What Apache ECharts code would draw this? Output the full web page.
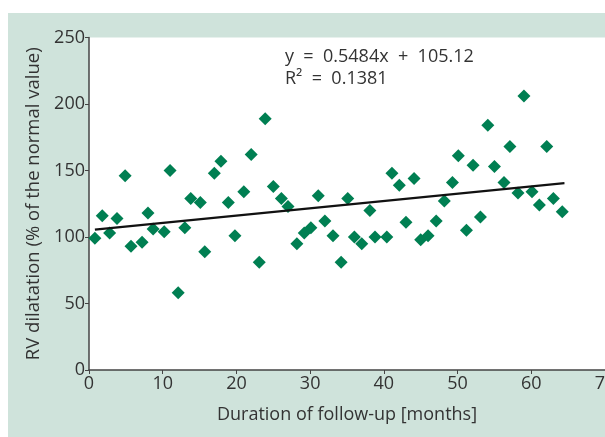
<!DOCTYPE html>
<html><head><meta charset="utf-8">
<script src="https://cdn.jsdelivr.net/npm/echarts@6/dist/echarts.min.js"></script>
<style>html,body{margin:0;padding:0;background:#fff}#c{width:605px;height:437px}</style>
</head><body><div id="c"></div>
<script>
const months = [0.8,1.8,2.8,3.8,4.9,5.7,7.2,8.0,8.7,10.2,11.0,12.1,13.0,13.8,15.1,15.7,17.0,17.9,18.9,19.8,21.0,22.0,23.1,23.9,25.0,26.1,27.0,28.2,29.2,30.1,31.1,32.0,33.1,34.2,35.1,36.0,37.0,38.1,38.8,40.4,41.1,42.1,43.0,44.1,45.0,46.0,47.1,48.2,49.3,50.1,51.2,52.1,53.1,54.1,55.0,56.3,57.1,58.2,59.0,60.1,61.1,62.1,63.0,64.2];
const rvDilatation = [99,116,103,114,146,93,96,118,106,104,150,58,107,129,126,89,148,157,126,101,134,162,81,189,138,129,123,95,103,107,131,112,101,81,129,100,95,120,100,100,148,139,111,144,98,101,112,127,141,161,105,154,115,184,153,141,168,133,206,134,124,168,129,119];
const slope = 0.5484, intercept = 105.12, rSquared = 0.1381;
const xTicks = [0,10,20,30,40,50,60,70];
const yTicks = [0,50,100,150,200,250];

const pts = months.map((m,i)=>[m, rvDilatation[i]]);
const xMin = Math.min(...months), xMax = Math.max(...months)+0.3;
const trend = [[xMin, slope*xMin+intercept],[xMax, slope*xMax+intercept]];
const font = '"Open Sans", "Noto Sans", sans-serif';

const chart = echarts.init(document.getElementById('c'), null, {renderer:'canvas'});
chart.setOption({
  animation:false,
  backgroundColor:'#ffffff',
  graphic:[
    {type:'rect', z:-10, shape:{x:8,y:13,width:597,height:424}, style:{fill:'#cfe3db'}},
    {type:'text', left:285, top:46, z:10, style:{text:'y  =  0.5484x  +  105.12\nR²  =  ' + rSquared, font:'18px ' + font, fill:'#333', lineHeight:22}}
  ],
  grid:{left:89, right:0, top:37.5, bottom:67, show:true, backgroundColor:'#ffffff', borderWidth:0, containLabel:false, outerBoundsMode:'none'},
  xAxis:{type:'value', min:0, max:70, interval:10,
    name:'Duration of follow-up [months]', nameLocation:'middle', nameGap:36,
    nameTextStyle:{fontFamily:font, fontSize:18, color:'#333'},
    axisLine:{show:true, onZero:false, lineStyle:{color:'#444', width:1.5}},
    axisTick:{show:true, inside:false, length:4, lineStyle:{color:'#444'}},
    axisLabel:{fontFamily:font, fontSize:18, color:'#333', margin:5, hideOverlap:false},
    splitLine:{show:false}},
  yAxis:{type:'value', min:0, max:250, interval:50,
    name:'RV dilatation (% of the normal value)', nameLocation:'middle', nameGap:45,
    nameTextStyle:{fontFamily:font, fontSize:18.5, color:'#333'},
    axisLine:{show:true, onZero:false, lineStyle:{color:'#444', width:1.5}},
    axisTick:{show:true, inside:false, length:4, lineStyle:{color:'#444'}},
    axisLabel:{fontFamily:font, fontSize:18, color:'#333', margin:4},
    splitLine:{show:false}},
  series:[
    {type:'scatter', data:pts, symbol:'diamond', symbolSize:13, itemStyle:{color:'#007f52', opacity:1}, z:3},
    {type:'line', data:trend, showSymbol:false, symbol:'none', lineStyle:{color:'#111', width:2.2}, z:4, silent:true}
  ]
});
</script></body></html>
